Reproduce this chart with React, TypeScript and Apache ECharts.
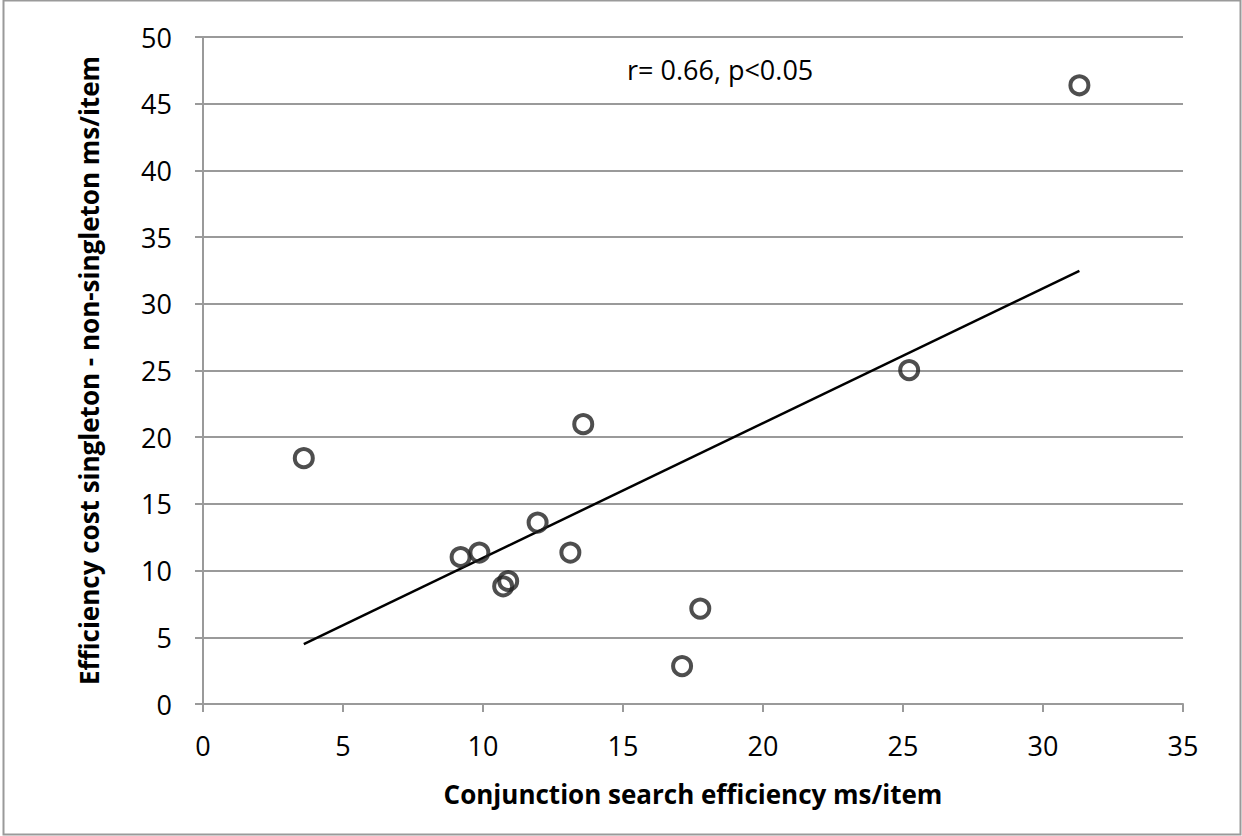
import React, { useEffect, useRef } from "react";
import * as echarts from "echarts";

const xValues = [3.6, 9.2, 9.87, 10.72, 10.9, 11.95, 13.12, 13.58, 17.11, 17.76, 25.22, 31.3];
const yValues = [18.43, 11.02, 11.35, 8.82, 9.22, 13.6, 11.35, 20.98, 2.84, 7.15, 25.03, 46.38];
const trendX = [3.6, 31.3];
const trendY = [4.49, 32.47];
const xTicks = { min: 0, max: 35, interval: 5 };
const yTicks = { min: 0, max: 50, interval: 5 };
const xTitle = "Conjunction search efficiency ms/item";
const yTitle = "Efficiency cost singleton - non-singleton ms/item";
const note = "r= 0.66, p<0.05";

const FONT = "'Open Sans', 'Noto Sans', sans-serif";

export default function App() {
  const ref = useRef<HTMLDivElement>(null);
  useEffect(() => {
    if (!ref.current) return;
    const chart = echarts.init(ref.current, null, { renderer: "svg" });
    const pts = xValues.map((x, i) => [x, yValues[i]]);
    const trend = trendX.map((x, i) => [x, trendY[i]]);
    chart.setOption({
      animation: false,
      backgroundColor: "#fff",
      grid: { left: 203, right: 59, top: 37, bottom: 132, containLabel: false },
      graphic: [
        {
          type: "rect",
          shape: { x: 3.5, y: 0.5, width: 1237, height: 834 },
          style: { fill: "none", stroke: "#9a9a9a", lineWidth: 2 },
          silent: true,
        },
        {
          type: "text",
          left: 627,
          top: 56,
          style: { text: note, font: `27px ${FONT}`, fill: "#000" },
        },
      ],
      xAxis: {
        type: "value",
        min: xTicks.min,
        max: xTicks.max,
        interval: xTicks.interval,
        name: xTitle,
        nameLocation: "middle",
        nameGap: 77,
        nameTextStyle: { fontFamily: FONT, fontSize: 26, fontWeight: "bold", color: "#000" },
        axisLine: { show: true, lineStyle: { color: "#9a9a9a", width: 2 } },
        axisTick: { show: true, length: 8, lineStyle: { color: "#9a9a9a", width: 2 } },
        axisLabel: { fontFamily: FONT, fontSize: 27, color: "#000", margin: 28 },
        splitLine: { show: false },
      },
      yAxis: {
        type: "value",
        min: yTicks.min,
        max: yTicks.max,
        interval: yTicks.interval,
        name: yTitle,
        nameLocation: "middle",
        nameGap: 101,
        nameTextStyle: { fontFamily: FONT, fontSize: 26, fontWeight: "bold", color: "#000" },
        axisLine: { show: true, lineStyle: { color: "#9a9a9a", width: 2 } },
        axisTick: { show: true, length: 8, lineStyle: { color: "#9a9a9a", width: 2 } },
        axisLabel: { fontFamily: FONT, fontSize: 27, color: "#000", margin: 31 },
        splitLine: { show: true, lineStyle: { color: "#9a9a9a", width: 2 } },
      },
      series: [
        {
          type: "line",
          data: trend,
          symbol: "none",
          lineStyle: { color: "#000", width: 2.5 },
          silent: true,
          z: 2,
        },
        {
          type: "scatter",
          data: pts,
          symbol: "circle",
          symbolSize: 18,
          itemStyle: { color: "rgba(255,255,255,0)", borderColor: "#222", borderWidth: 4 },
          z: 3,
        },
      ],
    });
    return () => chart.dispose();
  }, []);
  return (
    <div
      ref={ref}
      style={{ position: "fixed", left: 0, top: 0, width: 1242, height: 836 }}
    />
  );
}
